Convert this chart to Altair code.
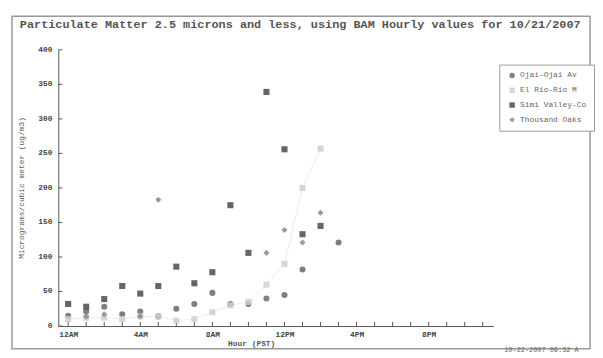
import altair as alt
import pandas as pd

title_text = "Particulate Matter 2.5 microns and less, using BAM Hourly values for 10/21/2007"
y_title = "Micrograms/cubic meter (ug/m3)"
x_title = "Hour (PST)"
footer_text = "10-22-2007 09:32 A"
series_names = ["Ojai-Ojai Av", "El Rio-Rio M", "Simi Valley-Co", "Thousand Oaks"]

ojai_hours = [0, 1, 2, 3, 4, 5, 6, 7, 8, 9, 10, 11, 12, 13, 15]
ojai_vals = [15, 21, 28, 17, 21, 14, 25, 32, 48, 32, 32, 40, 45, 82, 121]

elrio_hours = [0, 1, 2, 3, 4, 5, 6, 7, 8, 9, 10, 11, 12, 13, 14]
elrio_vals = [10, 12, 12, 10, 14, 14, 8, 10, 20, 30, 35, 60, 90, 200, 257]

simi_hours = [0, 1, 2, 3, 4, 5, 6, 7, 8, 9, 10, 11, 12, 13, 14]
simi_vals = [32, 28, 39, 58, 47, 58, 86, 62, 78, 175, 106, 339, 256, 133, 145]

oaks_hours = [1, 2, 4, 5, 11, 12, 13, 14]
oaks_vals = [14, 17, 14, 183, 106, 139, 121, 164]

x_label_hours = [0, 4, 8, 12, 16, 20]
x_label_text = ["12AM", "4AM", "8AM", "12PM", "4PM", "8PM"]
y_ticks = [0, 50, 100, 150, 200, 250, 300, 350, 400]
tick_hours = list(range(24))

rows = []
for name, hs, vs in [(series_names[0], ojai_hours, ojai_vals),
                     (series_names[1], elrio_hours, elrio_vals),
                     (series_names[2], simi_hours, simi_vals),
                     (series_names[3], oaks_hours, oaks_vals)]:
    for h, v in zip(hs, vs):
        rows.append({"series": name, "hour": h, "value": v})
df = pd.DataFrame(rows)

W, H = 441, 280
FONT = "Liberation Mono"
xs = alt.Scale(domain=[-0.547, 23.59], nice=False, zero=False)
ys = alt.Scale(domain=[0, 400], nice=False)

label_expr = " : ".join(
    [f"datum.value == {h} ? '{t}'" for h, t in zip(x_label_hours, x_label_text)]
) + " : ''"

x_axis = alt.Axis(values=x_label_hours, labelExpr=label_expr, title=None, ticks=False,
                  grid=False, domainColor="#555", labelFont=FONT, labelFontSize=8,
                  labelFontWeight="bold", labelColor="#444", labelPadding=5,
                  labelFlush=False, labelOverlap=False)
y_axis = alt.Axis(values=y_ticks, title=None, ticks=False, grid=False, domainColor="#555",
                  labels=False)

color_scale = alt.Scale(domain=series_names, range=["#6a6a6a", "#cfcfcf", "#4a4a4a", "#8a8a8a"])
shape_scale = alt.Scale(domain=series_names, range=["circle", "square", "square", "diamond"])

points = alt.Chart(df).mark_point(filled=True, size=38, opacity=0.85).encode(
    x=alt.X("hour:Q", scale=xs, axis=x_axis),
    y=alt.Y("value:Q", scale=ys, axis=y_axis),
    color=alt.Color("series:N", scale=color_scale,
                    legend=alt.Legend(title=None, orient="none", legendX=447, legendY=15,
                                      strokeColor="#999", fillColor="white", padding=7,
                                      labelFont=FONT, labelFontSize=8, labelColor="#666",
                                      symbolSize=30, rowPadding=7, symbolOffset=2)),
    shape=alt.Shape("series:N", scale=shape_scale, legend=None),
)

faint_line = alt.Chart(df[df.series == series_names[1]]).mark_line(
    color="#ececec", strokeWidth=1).encode(
    x=alt.X("hour:Q", scale=xs, axis=x_axis), y=alt.Y("value:Q", scale=ys, axis=y_axis))

xticks = alt.Chart(pd.DataFrame({"hour": tick_hours})).mark_rule(color="#555").encode(
    x=alt.X("hour:Q", scale=xs, axis=x_axis), y=alt.datum(0), y2=alt.datum(6))
ytick_df = pd.DataFrame({"value": y_ticks, "lab": [str(v) for v in y_ticks]})
yticks = alt.Chart(ytick_df).mark_rule(color="#555").encode(
    y=alt.Y("value:Q", scale=ys, axis=y_axis), x=alt.value(0), x2=alt.value(4))
ylabels = alt.Chart(ytick_df).mark_text(align="right", baseline="middle", font=FONT,
                                        fontSize=8, fontWeight="bold", color="#444").encode(
    y=alt.Y("value:Q", scale=ys, axis=y_axis), x=alt.value(-6), text="lab:N")

one = pd.DataFrame({"a": [0]})
frame = alt.Chart(one).mark_rect(fill=None, stroke="#999", strokeWidth=1.5).encode(
    x=alt.value(-47), x2=alt.value(539), y=alt.value(-34), y2=alt.value(303))
title = alt.Chart(one).mark_text(align="left", baseline="middle", font=FONT, fontSize=12,
                                 fontWeight="bold", color="#555").encode(
    x=alt.value(-39), y=alt.value(-26), text=alt.value(title_text))
ytitle = alt.Chart(one).mark_text(angle=270, baseline="middle", align="center", font=FONT,
                                  fontSize=8, color="#555").encode(
    x=alt.value(-37), y=alt.value(140), text=alt.value(y_title))
xtitle = alt.Chart(one).mark_text(align="center", baseline="middle", font=FONT, fontSize=8,
                                  fontWeight="bold", color="#555").encode(
    x=alt.value(196), y=alt.value(298), text=alt.value(x_title))
footer = alt.Chart(one).mark_text(align="left", baseline="middle", font=FONT, fontSize=7,
                                  color="#666").encode(
    x=alt.value(452), y=alt.value(304), text=alt.value(footer_text))

chart = alt.layer(frame, faint_line, xticks, yticks, ylabels, points, title, ytitle, xtitle,
                  footer).properties(
    width=W, height=H,
    autosize=alt.AutoSizeParams(type="none"),
    padding={"left": 51, "top": 40, "right": 103, "bottom": 30},
).configure_view(stroke=None)

chart.save("out.html", embed_options={"renderer": "svg", "actions": False})
